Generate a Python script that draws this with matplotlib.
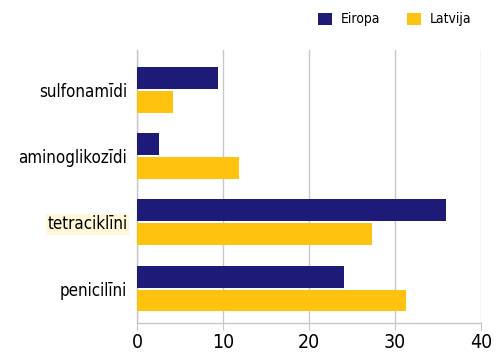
import matplotlib
matplotlib.use("Agg")
import matplotlib.pyplot as plt
import numpy as np
from matplotlib import font_manager

categories = ["sulfonamīdi", "aminoglikozīdi", "tetraciklīni", "penicilīni"]
eiropa = [9.4, 2.6, 35.9, 24.1]
latvija = [4.2, 11.9, 27.3, 31.3]
series_names = ["Eiropa", "Latvija"]
xticks = [0, 10, 20, 30, 40]

# prefer a narrow sans face if one is installed
narrow = None
for f in font_manager.fontManager.ttflist:
    if ("Narrow" in f.name or f.stretch in ("condensed", "semi-condensed")) \
            and f.style == "normal" and f.weight in (400, "normal", "regular"):
        narrow = f
        break
if narrow is not None:
    plt.rcParams["font.family"] = [narrow.name, "DejaVu Sans"]
    plt.rcParams["font.stretch"] = narrow.stretch

navy = "#1e1a78"
yellow = "#ffc20e"
grid_c = "#c8c8c8"

fig = plt.figure(figsize=(5.01, 3.55), dpi=100)
ax = fig.add_axes([0.2735, 0.090, 0.6865, 0.769])

y = np.arange(len(categories))
h = 0.33
ax.barh(y - h / 2 - 0.015, eiropa, height=h, color=navy, label=series_names[0], zorder=3)
ax.barh(y + h / 2 + 0.015, latvija, height=h, color=yellow, label=series_names[1], zorder=3)

ax.set_xlim(0, 40)
ax.set_ylim(3.52, -0.6)
ax.set_xticks(xticks)
ax.set_xticklabels([str(t) for t in xticks], fontsize=14)
ax.set_yticks(y)
ax.set_yticklabels(categories, fontsize=12.2)
ax.tick_params(axis="y", length=0, pad=7)
ax.tick_params(axis="x", length=5, color=grid_c, pad=2)

ax.xaxis.grid(True, color=grid_c, linewidth=1, zorder=0)
for s in ["top", "right"]:
    ax.spines[s].set_visible(False)
for s in ["left", "bottom"]:
    ax.spines[s].set_color(grid_c)
    ax.spines[s].set_linewidth(1)

ax.get_yticklabels()[2].set_bbox(dict(facecolor="#fff8d8", edgecolor="none", pad=1))

fig.legend(loc="upper right", bbox_to_anchor=(0.965, 1.0), ncol=2, frameon=False,
           fontsize=10, handlelength=1.0, handleheight=1.0, columnspacing=1.95,
           handletextpad=0.6)

fig.savefig("out.png", dpi=100)
